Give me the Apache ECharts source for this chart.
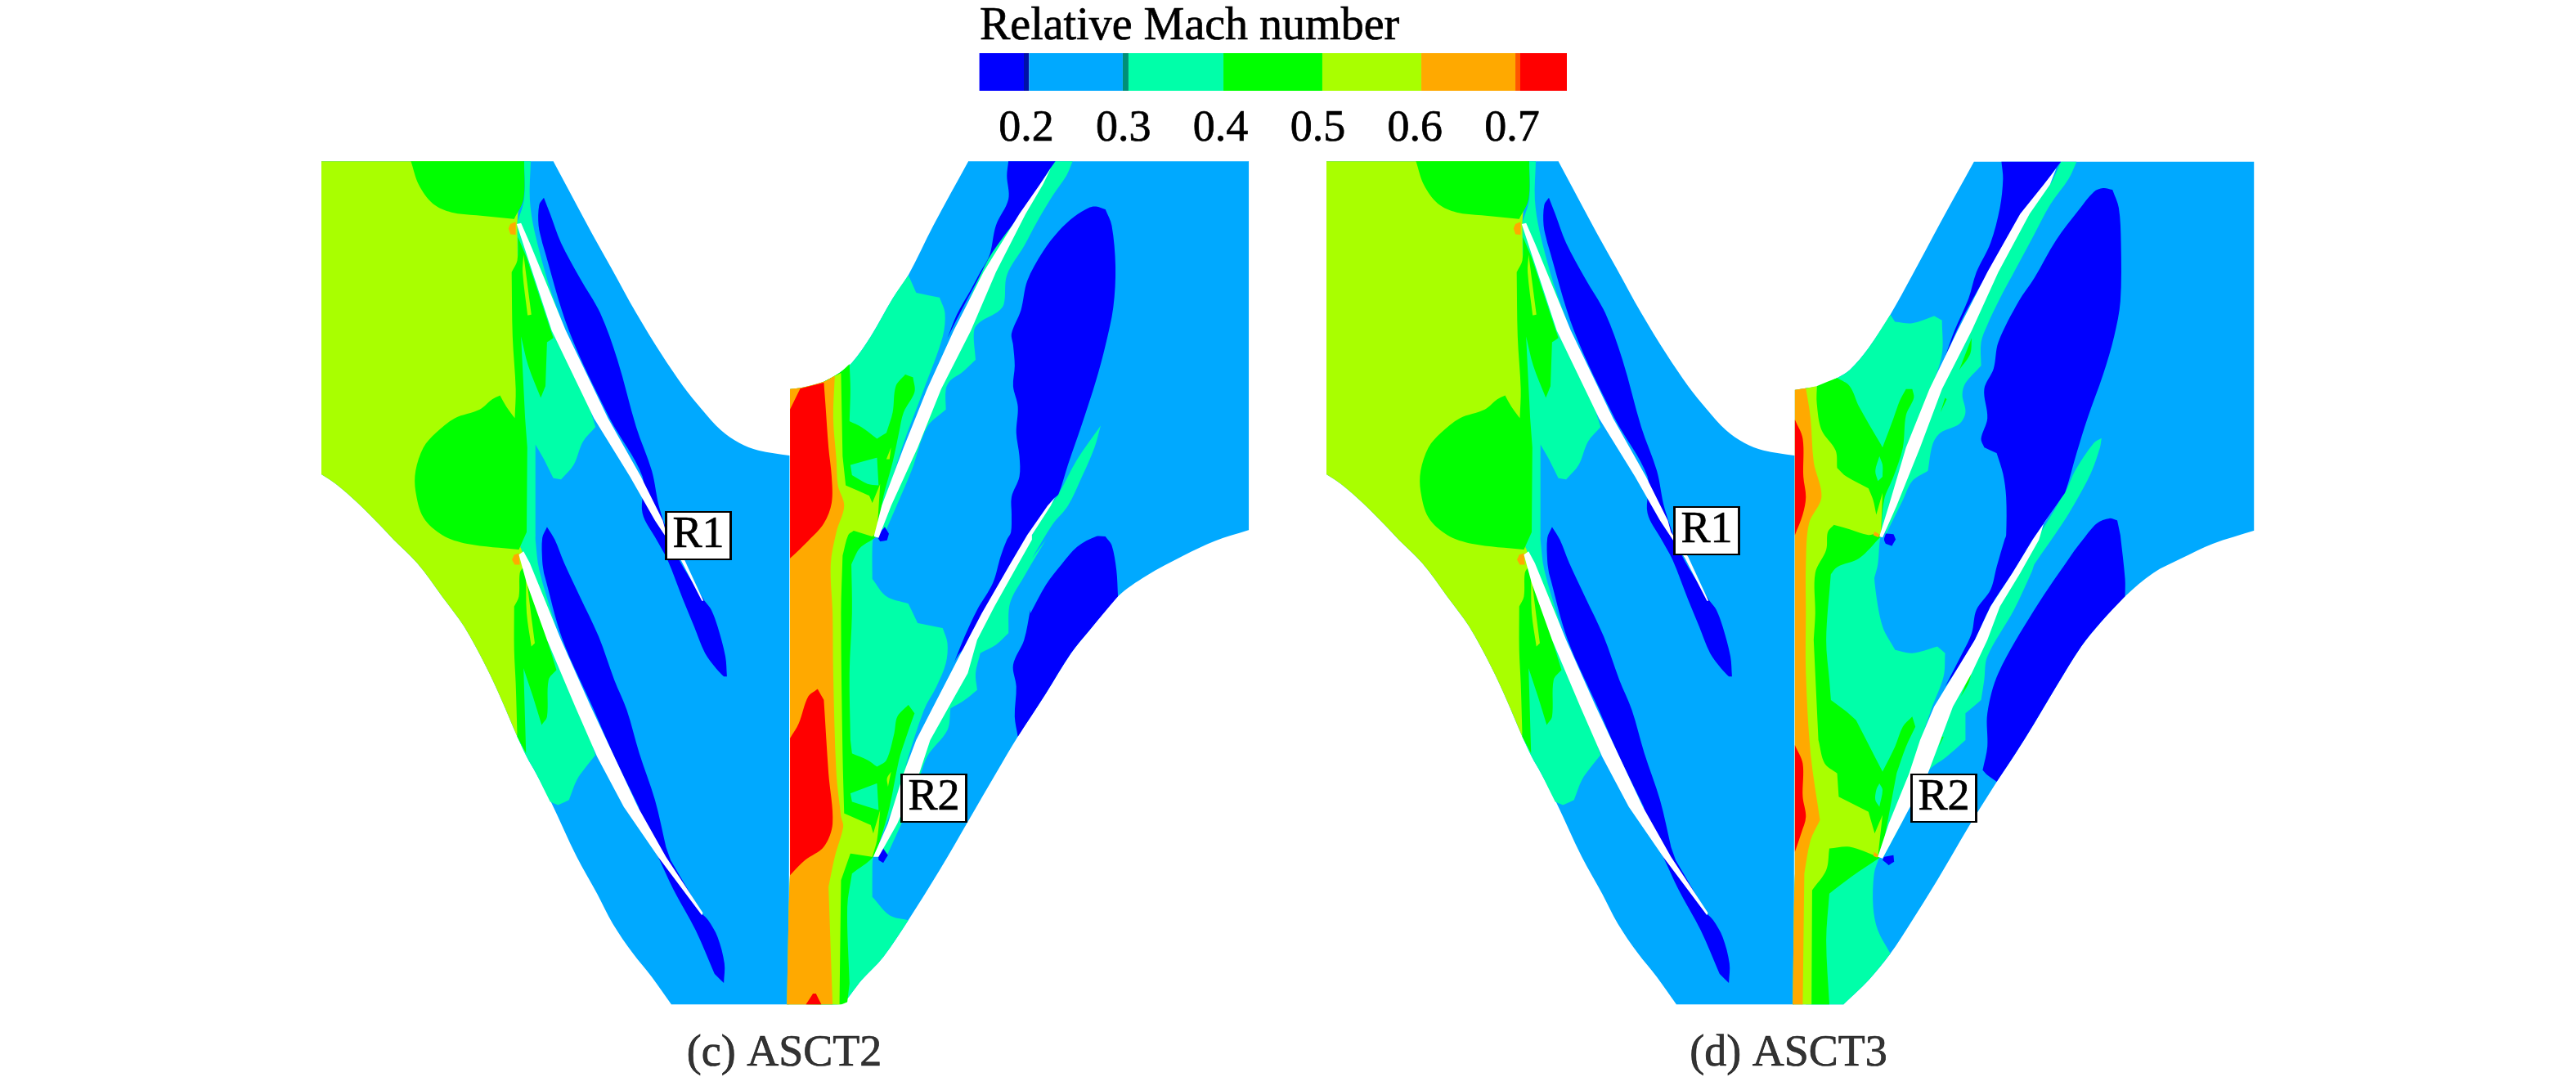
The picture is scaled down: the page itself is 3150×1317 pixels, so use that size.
<!DOCTYPE html>
<html><head><meta charset="utf-8">
<style>html,body{margin:0;padding:0;background:#fff}#c{width:3150px;height:1317px}</style>
<script src="https://cdn.jsdelivr.net/npm/echarts@6/dist/echarts.min.js"></script>
</head><body><div id="c"></div>
<script>
// Contour levels of relative Mach number
const levelColors = ['#0000ff','#00a9ff','#00ffa9','#00ff00','#a9ff00','#ffa900','#ff0000','#ffffff'];
const BLUE=0,SKY=1,SPRING=2,GREEN=3,YG=4,ORANGE=5,RED=6,WHITE=7;
const tickValues = [0.2,0.3,0.4,0.5,0.6,0.7];
const barBands = [
 [0.1517,0.1975,'#0000ff'],[0.1975,0.2029,'#0010a8'],[0.2029,0.2993,'#00a9ff'],[0.2993,0.3052,'#008f78'],
 [0.3052,0.4029,'#00ffa9'],[0.4029,0.5047,'#00ff00'],[0.5047,0.6066,'#a9ff00'],[0.6066,0.7034,'#ffa900'],
 [0.7034,0.7084,'#ff5500'],[0.7084,0.7564,'#ff0000']];
const captions = [[959,1289,'(c) ASCT2'],[2187,1289,'(d) ASCT3']];
const bladeTags = [[854,655,'R1'],[1142,976,'R2'],[2087,649,'R1'],[2377,976,'R2']];

// readers: contour points noted per picture region
const reader=(x0,y0,sy)=>(...f)=>{const r=[];for(let i=0;i<f.length;i+=2)r.push([x0+f[i]/2.6133,y0+f[i+1]/sy]);return r;};
const A=reader(380,190,2.8),B=reader(380,660,2.45),C=reader(950,190,2.8),D=reader(950,660,2.45),
      G=reader(2170,190,2.8),H=reader(2170,660,2.45);

// ---------- first rotor R1 (panel c) ----------
const r1Top=A(34,20,775,20,830,130,900,270,960,385,1040,540,1120,680,1190,790,1250,870,1310,940,1370,985,1430,1010,1530,1028);
const r1Edge=B(1528,1392,1152,1392);
const r1LowerB=B(1090,1310,1030,1240,965,1150,915,1060,850,950,770,790,720,700,690,650,660,590,610,480,560,380,490,260,420,170,340,70,265,0);
const r1LowerA=A(220,1265,150,1190,80,1125,34,1092);
const r1Regions=[
 [SKY,[...r1Top,...r1Edge,...r1LowerB,...r1LowerA]],
 [SPRING,A(682,20,703,20,700,150,715,260,760,440,800,560,850,720,910,930,870,980,840,1060,800,1110,775,1105,745,1040,718,990,718,1300,700,1345,690,1345,670,1340,660,900,660,230,682,150)],
 [SPRING,[...A(718,1300),...B(718,0,730,90,780,250,850,470,910,645,880,680,850,720,825,780,790,795,765,785,720,700,690,650,660,590,655,300,665,45,680,0)]],
 [YG,[...A(34,20,675,20,660,230,665,800,670,1340),...B(685,60,675,400,660,590,610,480,560,380,490,260,420,170,340,70,265,0),...r1LowerA]],
 [GREEN,A(320,20,345,100,390,165,450,195,530,205,650,218,680,150,682,20)],
 [GREEN,A(662,280,660,360,642,400,645,620,655,800,652,900,625,860,605,822,580,835,540,870,460,900,400,950,360,1000,335,1080,335,1150,360,1240,420,1300,500,1330,665,1350,690,1290,692,1000,685,900,672,620,695,720,735,830,750,790,755,640,775,625,690,350)],
 [YG,A(680,340,705,545,693,548,677,400)],
 [GREEN,B(668,100,665,170,650,200,650,330,655,430,660,590,688,640,680,385,710,470,738,555,755,530,760,420,785,390,700,130,680,80)],
 [YG,B(688,100,698,180,716,310,705,320,690,220)],
 [ORANGE,A(655,228,638,235,632,250,638,270,655,272)],
 [ORANGE,B(665,40,650,45,643,60,652,75,668,75)],
 [BLUE,[...A(745,145,765,200,800,300,860,420,925,540,980,700,1040,930,1090,1080,1115,1210,1170,1370,1255,1520),...B(1260,185,1280,210,1300,260,1325,350,1330,410,1320,410,1295,385,1260,340,1225,260,1190,180,1140,60,1105,0),...A(1060,1225,1060,1100,955,900,825,600,740,300,728,240,730,170)]],
 [BLUE,[...A(755,1272,780,1316),...B(810,70,860,170,920,290,970,420,1010,510,1050,640,1100,780,1135,920,1150,960,1250,1120,1270,1140,1300,1190,1322,1270,1320,1328,1290,1300,1230,1170,1160,1050,1110,950,1060,860,1048,800,970,650,900,500,805,300,745,100),...A(740,1390,740,1310)]],
 [WHITE,[...A(658,235,770,600,905,900,1020,1100,1100,1250,1180,1380,1250,1525,1255,1525,1190,1375,1135,1290,1125,1250,1055,1100,950,900,815,600,700,300,672,232)]],
 [WHITE,B(665,45,690,130,755,300,845,500,915,650,1000,800,1110,950,1250,1125,1253,1118,1135,950,1045,800,970,650,895,500,800,300,700,70,680,35)],
];

// ---------- second rotor R2, panel c ----------
const r2cOuter=[...C(42,800,80,795,150,775,200,745,240,710,300,620,370,490,420,410,500,240,612,20,1508,20,1508,1283,1400,1320,1300,1370,1180,1440,1090,1510),
  ...D(1000,270,940,340,860,460,770,590,700,700,610,845,520,990,420,1140,340,1250,270,1320,215,1385,190,1392,32,1392,38,1100,42,1000)];
const r2cRegions=[
 [SKY,r2cOuter],
 [SPRING,[...C(420,410,445,470,520,487,537,540,530,620,470,800,400,1000,330,1250,310,1300,305,1340,305,1450,350,1510,420,1535),
   ...D(450,250,530,265,545,310,540,370,510,440,470,510,410,680,370,800,330,900,308,950,305,1000,305,1070,360,1125,420,1140,340,1250,270,1320,215,1385,190,1392,100,1392),
   ...C(100,795,150,775,200,745,240,710,300,620,370,490)]],
 [SPRING,C(890,20,945,20,925,70,880,140,830,230,790,310,735,410,725,510,700,540,650,570,630,600,635,700,590,745,555,770,540,800,540,870,480,930,430,1080,350,1280,330,1280,500,800,700,300,870,50)],
 [SPRING,[...C(1035,925,1015,1000,975,1100,930,1200,880,1265,815,1380),...D(860,0,790,110,745,190,740,280,700,315,650,340,635,400,640,450,600,480,555,505,545,570,480,650,440,760,350,950,330,945,410,680,540,480,720,150,800,10),...C(880,1190,900,1160,960,1040)]],
 [GREEN,[...C(232,715,235,800,232,910,270,930,320,970,350,950,370,880,380,790,410,750,435,760,440,810,405,880,390,950,370,1050,340,1170,320,1300,310,1312,265,1345,238,1400,240,1568),
   ...D(232,400,235,600,240,640,290,660,320,680,350,660,375,580,385,530,420,495,440,520,410,600,390,660,360,800,330,900,308,950,240,1000,225,1100,232,1330,225,1385,205,1392,190,1392,190,1000),...C(150,775,200,745)]],
 [SPRING,C(235,1060,320,1035,325,1130,290,1125,240,1095)],
 [SPRING,D(235,760,320,730,325,810,290,800,240,785)],
 [YG,C(365,1000,360,1040,350,1040)],[YG,D(365,695,355,740,352,715)],
 [YG,[...C(42,800,80,795,150,775,185,755,205,745,210,1030,220,1130,295,1165,305,1190,330,1125,320,1290,305,1305,245,1285,228,1300,210,1370,205,1568),
   ...D(210,640,215,820,300,855,308,880,330,810,320,900,305,950,235,940,205,1020,200,1392,32,1392,38,1100,42,1000)]],
 [ORANGE,[...C(42,800,80,795,150,775,185,755,180,900,190,1040,195,1130,215,1200,190,1290,172,1400,178,1568),
   ...D(180,400,190,700,205,830,212,860,185,950,165,1040,178,1392,32,1392,38,1100,42,1000)]],
 [RED,C(42,870,75,798,150,778,155,850,165,1000,175,1100,175,1190,150,1260,100,1320,42,1380)],
 [RED,D(42,595,70,550,100,470,130,447,150,480,165,700,178,850,150,920,90,960,42,1005)],
 [RED,D(93,1392,115,1360,125,1360,142,1392)],
 [BLUE,C(740,20,890,20,870,50,800,170,690,330,640,430,590,530,545,625,575,545,620,460,650,400,680,340,700,240,740,150,735,70)],
 [BLUE,[...C(1020,175,1050,185,1070,240,1082,380,1075,520,1050,650,1020,770,975,920,930,1060,900,1160,885,1175,820,1290),...D(800,10,725,130,640,290,580,345,545,420,600,290,640,210,690,130,715,50,735,0),...C(748,1290,750,1230,750,1170,775,1100,775,1030,765,950,770,860,755,790,760,720,755,650,750,610,780,530,800,430,850,330,900,260,950,210,1000,178)]],
 [BLUE,[...C(1020,1305,1050,1305,1070,1335,1085,1420,1090,1510),...D(1000,270,940,340,860,460,770,590,760,530,765,440,755,375,790,300,810,210),...C(810,1568,860,1470,910,1400,960,1340)]],
 [BLUE,C(345,1272,358,1295,352,1318,330,1322,320,1305)],
 [BLUE,D(340,925,355,945,340,968,325,960,325,945)],
 [WHITE,C(310,1305,335,1200,405,1000,480,800,565,600,660,400,775,200,840,100,875,45,850,100,795,200,700,400,620,600,525,800,450,1000,365,1200,325,1310)],
 [WHITE,[...C(888,1172,865,1200,800,1300,745,1400),...D(655,220,610,300,555,400,500,500,445,600,405,700,355,850,308,950,325,950,385,850,455,700,490,600,550,500,610,400,640,300,695,200,755,100,815,0),...C(815,1300,875,1200)]],
];

// ---------- second rotor R2, panel d ----------
const r2dOuter=[...G(65,803,100,797,140,790,200,762,240,735,300,660,370,545,440,410,530,230,637,22,1532,22,1532,1285,1400,1330,1300,1380,1210,1430,1120,1510),
  ...H(1040,250,980,320,900,440,830,550,770,640,710,725,620,860,520,1020,430,1155,370,1240,300,1320,220,1392,58,1392,62,1100,65,1000)];
const r2dRegions=[
 [SKY,r2dOuter],
 [SPRING,[...G(370,545,385,570,440,575,510,550,535,565,535,680,500,800,430,1000,380,1200,340,1300,330,1400,318,1450),
   ...H(320,60,320,130,345,260,385,330,440,340,520,320,545,340,540,410,500,510,440,680,400,800,335,950,318,1000,315,1100,330,1170,370,1240,300,1320,220,1392,100,1392),
   ...G(100,797,140,790,200,762,240,735,300,660)]],
 [SPRING,G(915,22,965,22,940,80,880,170,830,270,770,390,720,490,680,580,660,640,660,720,610,780,600,820,610,880,590,920,530,950,505,990,490,1080,440,1115,410,1180,350,1310,378,1200,442,1000,515,800,607,600,697,400,800,200,880,100)],
 [SPRING,[...G(1045,968,1040,1000,1010,1090,960,1190,920,1260,830,1400),...H(820,100,765,210,680,350,670,420,660,480,610,520,610,600,550,650,490,695,405,850,345,955,385,850,500,600,600,400,705,200,835,0),...G(880,1240,915,1175,935,1140,960,1080,1020,985)]],
 [GREEN,G(630,625,625,680,590,735)],[GREEN,G(550,835,530,880,545,830)],
 [GREEN,H(632,385,620,430,595,470)],[GREEN,H(540,590,525,620,535,590)],
 [GREEN,[...G(135,790,200,762,240,790,270,860,340,990,345,1000,380,900,400,840,420,800,440,800,445,830,420,890,410,1000,380,1100,350,1180,340,1305,270,1380,200,1410,170,1450),
   ...H(180,100,165,300,175,420,180,480,230,515,260,540,345,695,385,620,410,560,440,530,450,560,420,620,390,700,340,950,245,1010,175,1060,165,1200,175,1392,118,1392,118,400),...G(118,1000)]],
 [SPRING,G(335,1030,345,1060,345,1100,330,1115,322,1080)],
 [SPRING,H(335,730,345,750,335,800,322,780,325,750)],
 [YG,[...G(65,803,100,797,135,790,135,850,150,940,195,1010,200,1070,230,1100,300,1140,315,1180,325,1230,345,1155,340,1300,325,1295,300,1300,240,1280,190,1265,170,1290,165,1350,130,1430,130,1568),
   ...H(125,300,140,600,160,670,200,700,205,770,300,815,320,880,345,825,330,950,240,920,175,925,165,990,120,1050,118,1392,58,1392,62,1100,65,1000)]],
 [ORANGE,[...G(65,803,100,797,115,900,125,1050,150,1170,110,1260,100,1400,100,1568),...H(100,400,115,640,145,840,115,900,95,1000,90,1392,58,1392,62,1100,65,1000)]],
 [RED,G(65,905,90,970,92,1100,100,1170,90,1230,65,1300)],
 [RED,H(65,615,90,670,90,770,100,830,85,880,65,935)],
 [ORANGE,G(320,1288,335,1298,332,1308,315,1300)],
 [ORANGE,H(318,935,332,945,328,952,316,948)],
 [BLUE,G(725,22,915,22,895,50,830,160,780,240,720,340,650,460,595,570,545,690,575,600,620,490,645,400,690,300,720,180,730,80)],
 [BLUE,[...G(1050,112,1080,118,1100,180,1107,300,1105,500,1085,620,1050,750,1000,900,965,1020,930,1150,915,1175,880,1230),...H(825,0,760,100,690,200,640,300,575,400,545,440,600,340,630,280,645,210,690,150,710,80,735,0),...G(740,1300,740,1170,730,1090,710,1020,670,1000,660,970,680,900,670,800,700,730,715,640,780,500,830,420,900,290,970,190,1020,125)]],
 [BLUE,[...G(1070,1243,1095,1250,1105,1300,1120,1450,1120,1510),...H(1040,250,980,320,900,440,830,550,770,640,710,725,680,705,665,690,680,620,680,520,715,400,830,210,960,30,985,0),...G(1030,1260)]],
 [BLUE,G(355,1295,380,1297,387,1315,375,1337,355,1330,350,1315)],
 [BLUE,H(350,950,380,945,382,965,365,975,345,960)],
 [WHITE,G(335,1305,365,1200,420,1000,495,800,585,600,680,400,785,200,860,100,900,45,880,100,815,200,715,400,630,600,535,800,465,1000,390,1200,345,1308)],
 [WHITE,[...G(915,1175,880,1230,790,1370),...H(825,0,760,100,690,200,640,300,575,400,510,500,465,600,430,700,365,850,330,950,345,955,405,850,490,700,530,600,570,500,630,400,680,300,720,200,785,100,845,0),...G(860,1260)]],
];

// R1 in panel d: same row, read with the panel's offset
const panelShift=1229;
const r1dRegions=r1Regions.map(([l,p])=>[l,p.map(([x,y])=>[x+panelShift,y])]);
const allRegions=[...r1Regions,...r2cRegions,...r1dRegions,...r2dRegions];

// keep true corners and long straight edges crisp when the library rounds a contour
function guardCorners(pts){
 const n=pts.length,out=[];
 for(let i=0;i<n;i++){
  const p=pts[i],a=pts[(i+n-1)%n],b=pts[(i+1)%n];
  const ax=p[0]-a[0],ay=p[1]-a[1],bx=b[0]-p[0],by=b[1]-p[1];
  const la=Math.hypot(ax,ay)||1,lb=Math.hypot(bx,by)||1;
  const cos=(ax*bx+ay*by)/(la*lb);
  const uneven=Math.max(la,lb)>50&&Math.max(la,lb)/Math.min(la,lb)>2.6;
  if(cos<0.78||uneven){
   out.push([p[0]-ax/la*0.4,p[1]-ay/la*0.4],p,[p[0]+bx/lb*0.4,p[1]+by/lb*0.4]);
  } else out.push(p);
 }
 return out;
}

const chart=echarts.init(document.getElementById('c'),null,{renderer:'canvas'});
const serif='"Liberation Serif","Times New Roman",serif';
const heavy={textBorderColor:'#000',textBorderWidth:0.7};
chart.setOption({
 animation:false,backgroundColor:'#fff',
 title:{text:'Relative Mach number',left:1193,top:0,textStyle:{fontFamily:serif,fontSize:56,fontWeight:'normal',color:'#000',...heavy}},
 grid:[{left:0,top:0,width:3150,height:1317},{left:1197.6,top:65,width:718.4,height:46}],
 xAxis:[{type:'value',min:0,max:3150,show:false,gridIndex:0},
  {type:'value',gridIndex:1,min:0.1517,max:0.7564,axisLine:{show:false},axisTick:{show:false},splitLine:{show:false},
   axisLabel:{customValues:tickValues,margin:20,fontFamily:serif,fontSize:54,color:'#000',...heavy,formatter:v=>v.toFixed(1)}}],
 yAxis:[{type:'value',min:0,max:1317,inverse:true,show:false,gridIndex:0},
  {type:'value',min:0,max:1,show:false,gridIndex:1}],
 series:[
  {type:'custom',xAxisIndex:0,yAxisIndex:0,clip:false,silent:true,z:2,
   data:allRegions.map((r,i)=>[i,r[0]]),
   renderItem:(p,api)=>{const r=allRegions[p.dataIndex];
     const px=r[1].map(q=>api.coord(q));
     return {type:'polygon',shape:r[0]===WHITE?{points:px}:{points:guardCorners(px),smooth:0.33},style:{fill:levelColors[r[0]],stroke:null}};}},
  {type:'custom',xAxisIndex:1,yAxisIndex:1,silent:true,z:2,
   data:barBands.map(b=>[b[0],b[1]]),
   renderItem:(p,api)=>{const a=api.coord([api.value(0),1]),b=api.coord([api.value(1),0]);
     return {type:'rect',shape:{x:a[0],y:a[1],width:b[0]-a[0],height:b[1]-a[1]},style:{fill:barBands[p.dataIndex][2]}};}},
  {type:'scatter',xAxisIndex:0,yAxisIndex:0,silent:true,z:5,symbol:'rect',symbolSize:[79,58],
   itemStyle:{color:'#fff',borderColor:'#000',borderWidth:2.5,opacity:1},
   data:bladeTags.map(t=>({value:[t[0],t[1]],label:{show:true,position:'inside',formatter:t[2],fontFamily:serif,fontSize:54,color:'#000',...heavy}}))},
  {type:'scatter',xAxisIndex:0,yAxisIndex:0,silent:true,z:5,symbolSize:0,
   data:captions.map(t=>({value:[t[0],t[1]],label:{show:true,position:'inside',formatter:t[2],fontFamily:serif,fontSize:54,color:'#000',...heavy}}))}
 ]
});
</script></body></html>
